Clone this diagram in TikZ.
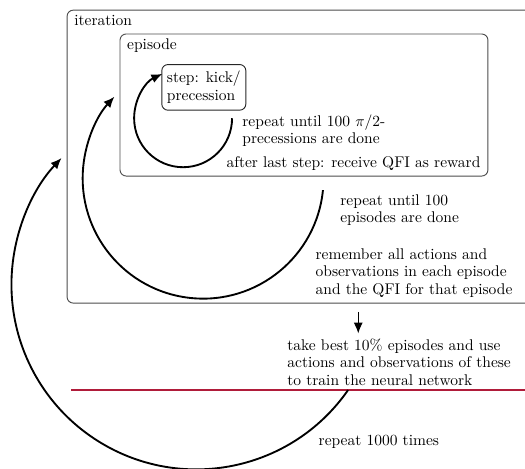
\documentclass[tikz,border=0pt]{standalone}
\usetikzlibrary{arrows.meta}
\definecolor{netred}{RGB}{176,28,58}
\begin{document}
\begin{tikzpicture}[x=1cm,y=1cm,
  >={Latex[length=2.5mm,width=2.1mm]},
  container/.style={draw=black!70, line width=0.6pt, rounded corners},
  repeatarc/.style={->, line width=1.2pt},
  note/.style={anchor=west, align=left, font=\linespread{0.93}\selectfont}]
\useasboundingbox (0,0) rectangle (11.90,-10.61);
% boxes
\node[container, minimum width=10.72cm, minimum height=6.64cm] (iteration) at (6.88,-3.55) {};
\node[anchor=north west, xshift=0.05cm] (iterlabel) at (iteration.north west) {iteration};
\node[container, minimum width=8.34cm, minimum height=3.22cm] (episode) at (6.89,-2.38) {};
\node[anchor=north west, xshift=0.05cm] (epilabel) at (episode.north west) {episode};
\node[container, draw=black!85, align=left, inner ysep=4pt] (step) at (4.62,-1.98) {step: kick/\\precession};
% texts
\node[note] (precess) at (5.37,-2.96) {repeat until 100 $\pi/2$-\\precessions are done};
\node[note] (reward) at (5.01,-3.70) {after last step: receive QFI as reward};
\node[note] (episodes) at (7.59,-4.77) {repeat until 100\\episodes are done};
\node[note] (remember) at (7.03,-6.19) {remember all actions and\\observations in each episode\\and the QFI for that episode};
\node[note] (train) at (6.39,-8.21) {take best 10\% episodes and use\\actions and observations of these\\to train the neural network};
\node[note] (times) at (7.10,-10.02) {repeat 1000 times};
% network update line
\coordinate (netleft) at (1.61,-8.84);
\coordinate (netright) at (12.0,-8.84);
\draw[netred, line width=1pt] (netleft) -- (netright);
% loops
\coordinate (steploop) at (5.26,-2.68);
\coordinate (epiloop) at (7.32,-4.31);
\coordinate (iterloop) at (7.89,-8.84);
\coordinate (collect) at (8.12,-7.07);
\draw[repeatarc] (steploop) arc[start angle=0, end angle=-245, radius=1.11];
\draw[repeatarc] (epiloop) arc[start angle=-5.7, end angle=-222.6, radius=2.73];
\draw[repeatarc] (iterloop) arc[start angle=-34.8, end angle=-223.2, radius=4.19];
\draw[->, line width=0.9pt] (collect) -- (collect |- train.north);
\end{tikzpicture}
\end{document}
